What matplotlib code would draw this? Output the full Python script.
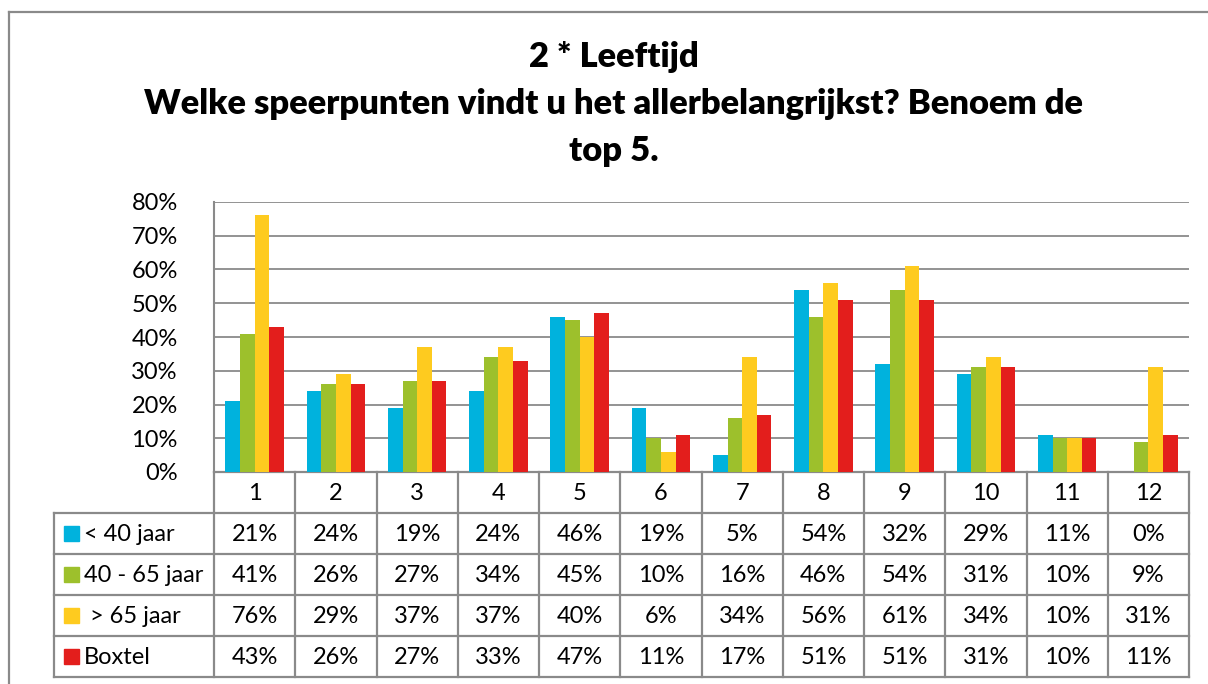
import matplotlib
matplotlib.use('Agg')
import matplotlib.pyplot as plt
import numpy as np

# category numbers and series (percent)
categories = ['1', '2', '3', '4', '5', '6', '7', '8', '9', '10', '11', '12']
series_names = ['< 40 jaar', '40 - 65 jaar', ' > 65 jaar', 'Boxtel']
young = [21, 24, 19, 24, 46, 19, 5, 54, 32, 29, 11, 0]
middle = [41, 26, 27, 34, 45, 10, 16, 46, 54, 31, 10, 9]
old = [76, 29, 37, 37, 40, 6, 34, 56, 61, 34, 10, 31]
boxtel = [43, 26, 27, 33, 47, 11, 17, 51, 51, 31, 10, 11]
yticks = [0, 10, 20, 30, 40, 50, 60, 70, 80]

colors = ['#00b2dd', '#9dc02c', '#fecb1f', '#e31e1c']
grey = '#8a8a8a'

plt.rcParams['font.family'] = ['Lato', 'DejaVu Sans']

W, H = 1208, 684
fig = plt.figure(figsize=(W / 100, H / 100), dpi=100)

# pixel layout
left, right = 214, 1189
top, base = 202, 472
row_h = 41
tab_left = 54

# overlay in pixel coords for frame + table
ov = fig.add_axes([0, 0, 1, 1])
ov.set_xlim(0, W)
ov.set_ylim(H, 0)
ov.axis('off')

ov.plot([9, 9], [12, H], color=grey, lw=1.6)
ov.plot([9, W], [12, 12], color=grey, lw=1.6)

title_lines = ['2 * Leeftijd',
               'Welke speerpunten vindt u het allerbelangrijkst? Benoem de',
               'top 5.']
for i, t in enumerate(title_lines):
    ov.text(614, 57 + 47 * i, t, ha='center', va='center',
            fontsize=24.8, fontweight='heavy')

ax = fig.add_axes([left / W, (H - base) / H, (right - left) / W, (base - top) / H])
ax.set_facecolor('none')
x = np.arange(len(categories))
w = 0.18
data = [young, middle, old, boxtel]
for k, vals in enumerate(data):
    ax.bar(x + (k - 1.5) * w, vals, width=w, color=colors[k], zorder=3)

ax.set_xlim(-0.5, len(categories) - 0.5)
ax.set_ylim(0, 80)
ax.set_yticks(yticks)
ax.set_yticklabels([f'{v}%' for v in yticks], fontsize=17)
ax.tick_params(axis='y', length=0, pad=26)
ax.set_xticks([])
ax.grid(axis='y', color=grey, lw=1.3, zorder=0)
for s in ['top', 'right', 'bottom']:
    ax.spines[s].set_visible(False)
ax.spines['left'].set_color(grey)
ax.spines['left'].set_linewidth(1.5)

# data table under the plot
col_w = (right - left) / len(categories)
n_rows = len(data)
bottom = base + row_h * (n_rows + 1)
lw_t = 1.6
ov.plot([left, right], [base, base], color=grey, lw=lw_t)
for r in range(1, n_rows + 2):
    ov.plot([tab_left, right], [base + r * row_h] * 2, color=grey, lw=lw_t)
ov.plot([tab_left, tab_left], [base + row_h, bottom], color=grey, lw=lw_t)
for c in range(len(categories) + 1):
    xc = left + c * col_w
    ov.plot([xc, xc], [base, bottom], color=grey, lw=lw_t)

for c, cat in enumerate(categories):
    ov.text(left + (c + 0.5) * col_w, base + row_h / 2 + 1, cat,
            ha='center', va='center', fontsize=17)

for r, (name, vals) in enumerate(zip(series_names, data)):
    yc = base + (r + 1.5) * row_h
    ov.add_patch(plt.Rectangle((64, yc - 7.5), 15, 15, color=colors[r]))
    ov.text(84, yc + 1, name, ha='left', va='center', fontsize=17)
    for c, v in enumerate(vals):
        ov.text(left + (c + 0.5) * col_w, yc + 1, f'{v}%',
                ha='center', va='center', fontsize=17)

fig.savefig('out.png', dpi=100)
